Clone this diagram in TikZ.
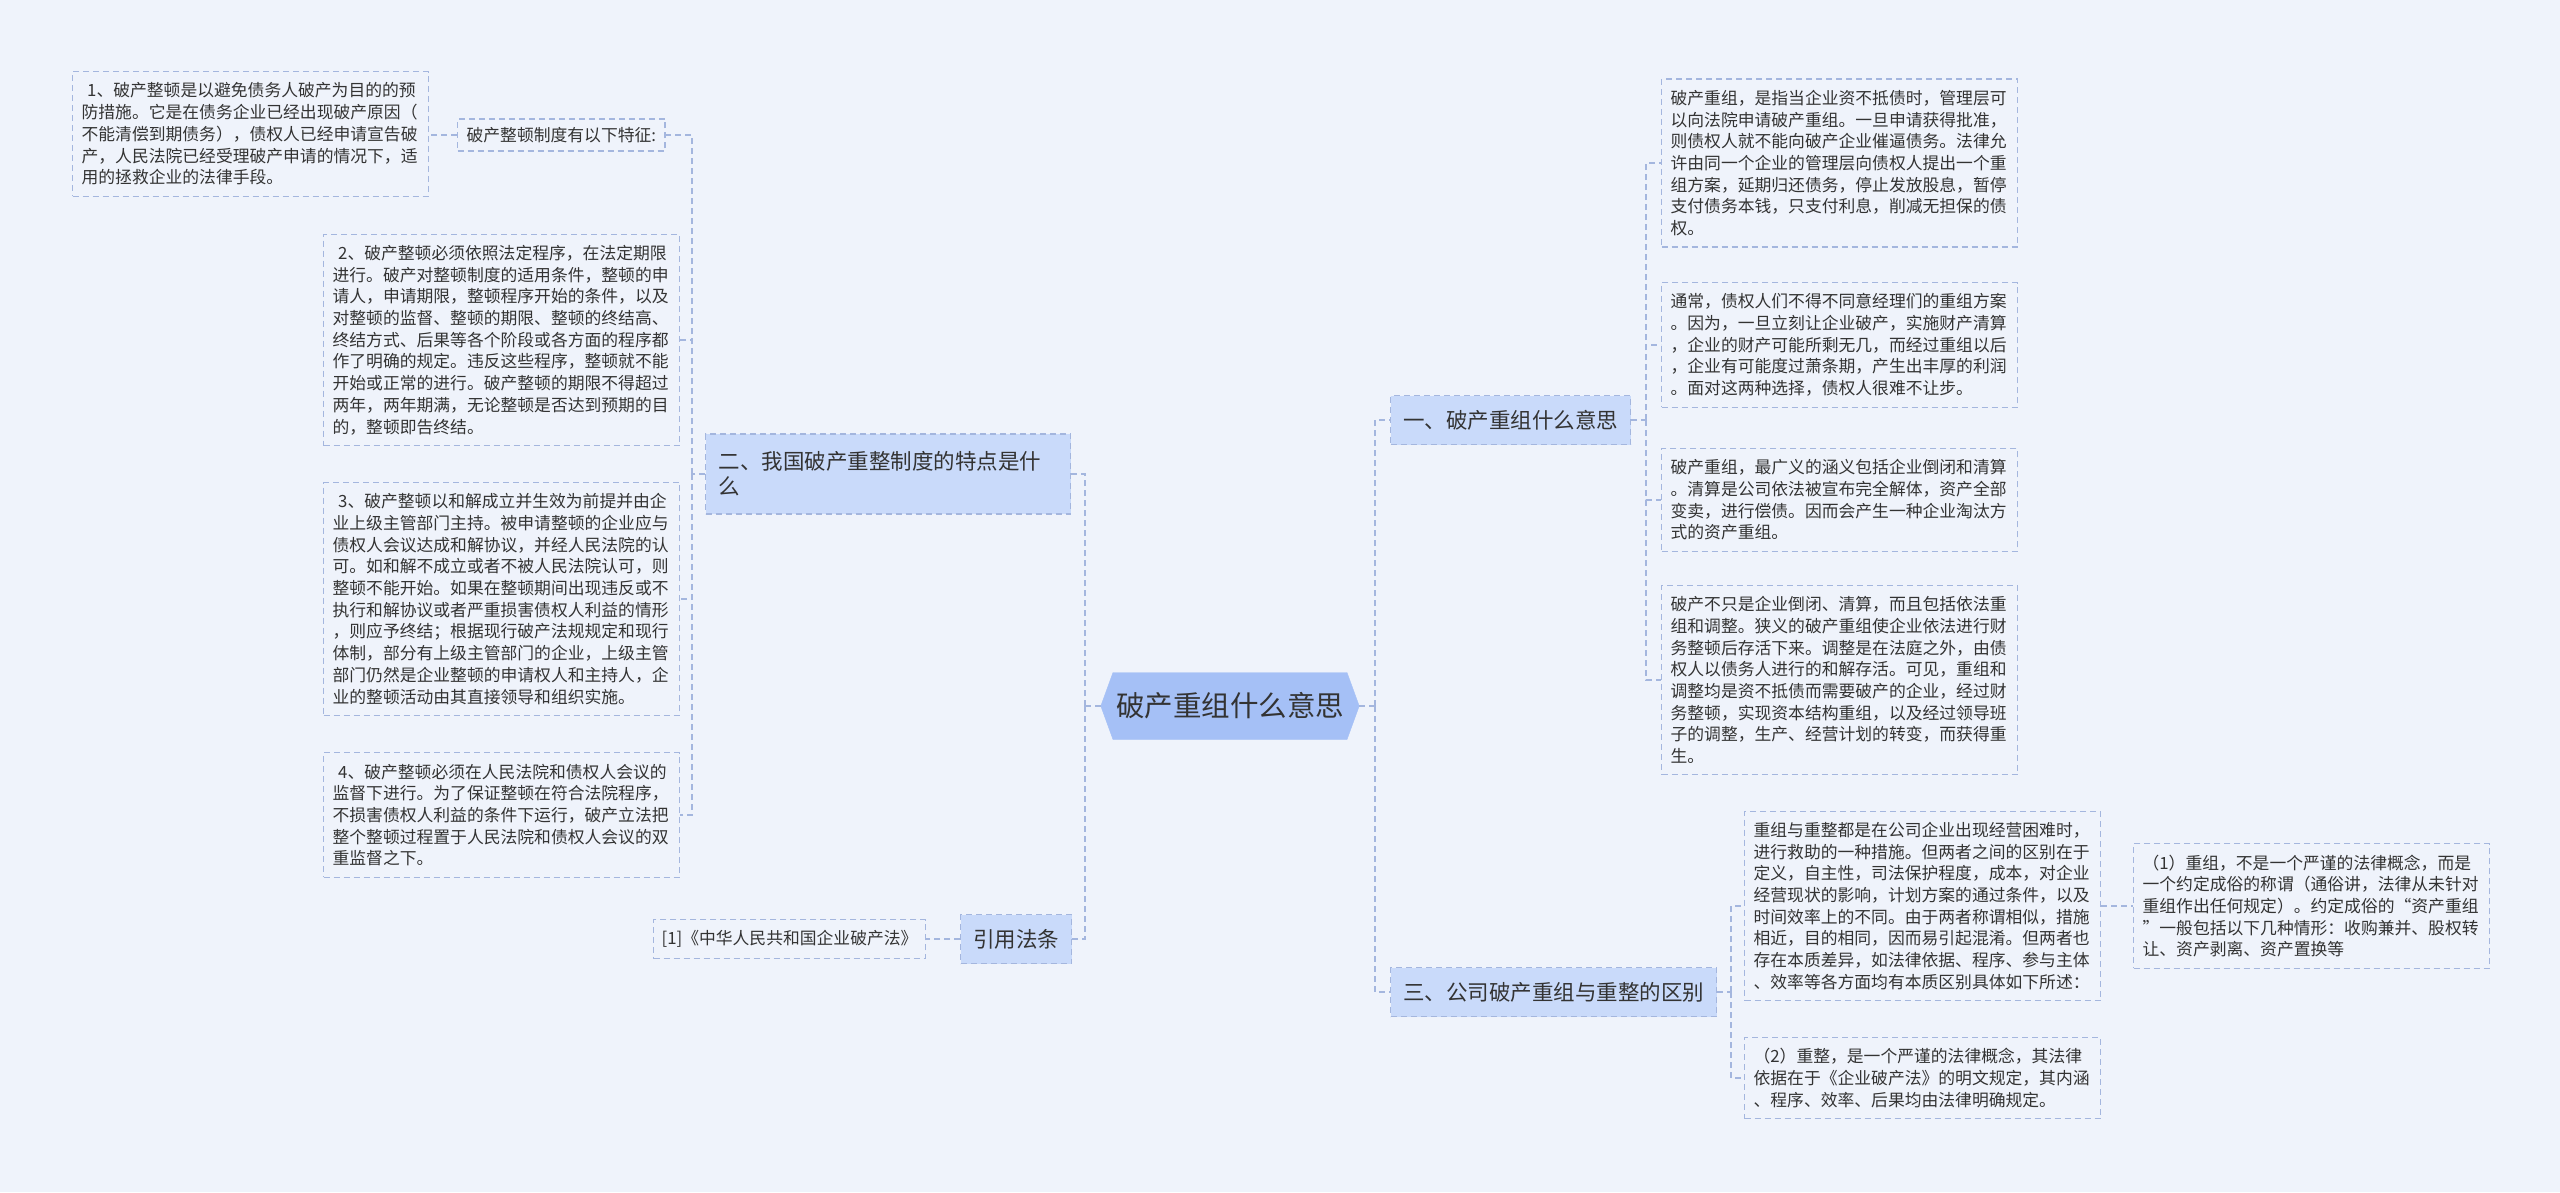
\documentclass[tikz,border=0pt]{standalone}
\usepackage{fontspec}
\setmainfont{Noto Sans CJK SC}
\usetikzlibrary{shapes.symbols}
\definecolor{pagebg}{RGB}{239,243,251}
\definecolor{linkblue}{RGB}{164,182,222}
\definecolor{topicblue}{RGB}{201,218,250}
\definecolor{rootblue}{RGB}{165,192,246}
\definecolor{inkgray}{RGB}{51,51,51}

\begin{document}
\begin{tikzpicture}[x=1pt, y=-1pt,
        root/.style={signal, signal to=west and east, signal pointer angle=140, fill=rootblue, draw=rootblue, minimum height=67pt, minimum width=257pt, inner xsep=3pt, text=inkgray, font=\fontsize{28.5pt}{30pt}\selectfont},
        topic/.style={rectangle, fill=topicblue, draw=linkblue, dash pattern=on 6pt off 4pt, line width=1.2pt, minimum height=49pt, inner xsep=12.5pt, text=inkgray, font=\fontsize{21.5pt}{25pt}\selectfont, anchor=west},
        leaf/.style={rectangle, fill=pagebg, draw=linkblue, dash pattern=on 6pt off 4pt, line width=1.2pt, text width=338pt, inner xsep=9pt, inner ysep=11pt, align=left, text=inkgray, font=\fontsize{16.8pt}{21.7pt}\selectfont, anchor=west},
        note/.style={rectangle, fill=pagebg, draw=linkblue, dash pattern=on 6pt off 4pt, line width=1.2pt, inner xsep=9pt, text=inkgray, font=\fontsize{16.8pt}{21.7pt}\selectfont, anchor=west},
        link/.style={draw=linkblue, line width=1.2pt, dash pattern=on 6pt off 4pt}
    ]
    \fill[pagebg] (0,0) rectangle (2560,1192);

    \node[root] (ctr) at (1230,706) {破产重组什么意思};

    \node[topic, text width=339pt, align=left, minimum height=80pt, inner xsep=13pt] (tp2) at (705,474) {二、我国破产重整制度的特点是什\\么};
    \node[topic] (law) at (960,939) {引用法条};
    \node[topic] (tp1) at (1390,420) {一、破产重组什么意思};
    \node[topic] (tp3) at (1390,992) {三、公司破产重组与重整的区别};

    \node[note, minimum height=32pt] (feat) at (457,135) {破产整顿制度有以下特征:};
    \node[note, minimum height=39pt, inner xsep=8pt] (ref) at (653,939) {[1]《中华人民共和国企业破产法》};

    \node[leaf] (lf1) at (72,134) {\ 1、破产整顿是以避免债务人破产为目的的预\\防措施。它是在债务企业已经出现破产原因（\\不能清偿到期债务），债权人已经申请宣告破\\产，人民法院已经受理破产申请的情况下，适\\用的拯救企业的法律手段。};
    \node[leaf] (lf2) at (323,340) {\ 2、破产整顿必须依照法定程序，在法定期限\\进行。破产对整顿制度的适用条件，整顿的申\\请人，申请期限，整顿程序开始的条件，以及\\对整顿的监督、整顿的期限、整顿的终结高、\\终结方式、后果等各个阶段或各方面的程序都\\作了明确的规定。违反这些程序，整顿就不能\\开始或正常的进行。破产整顿的期限不得超过\\两年，两年期满，无论整顿是否达到预期的目\\的，整顿即告终结。};
    \node[leaf] (lf3) at (323,599) {\ 3、破产整顿以和解成立并生效为前提并由企\\业上级主管部门主持。被申请整顿的企业应与\\债权人会议达成和解协议，并经人民法院的认\\可。如和解不成立或者不被人民法院认可，则\\整顿不能开始。如果在整顿期间出现违反或不\\执行和解协议或者严重损害债权人利益的情形\\，则应予终结；根据现行破产法规规定和现行\\体制，部分有上级主管部门的企业，上级主管\\部门仍然是企业整顿的申请权人和主持人，企\\业的整顿活动由其直接领导和组织实施。};
    \node[leaf] (lf4) at (323,815) {\ 4、破产整顿必须在人民法院和债权人会议的\\监督下进行。为了保证整顿在符合法院程序，\\不损害债权人利益的条件下运行，破产立法把\\整个整顿过程置于人民法院和债权人会议的双\\重监督之下。};

    \node[leaf] (rt1) at (1661,163) {破产重组，是指当企业资不抵债时，管理层可\\以向法院申请破产重组。一旦申请获得批准，\\则债权人就不能向破产企业催逼债务。法律允\\许由同一个企业的管理层向债权人提出一个重\\组方案，延期归还债务，停止发放股息，暂停\\支付债务本钱，只支付利息，削减无担保的债\\权。};
    \node[leaf] (rt2) at (1661,345) {通常，债权人们不得不同意经理们的重组方案\\。因为，一旦立刻让企业破产，实施财产清算\\，企业的财产可能所剩无几，而经过重组以后\\，企业有可能度过萧条期，产生出丰厚的利润\\。面对这两种选择，债权人很难不让步。};
    \node[leaf] (rt3) at (1661,500) {破产重组，最广义的涵义包括企业倒闭和清算\\。清算是公司依法被宣布完全解体，资产全部\\变卖，进行偿债。因而会产生一种企业淘汰方\\式的资产重组。};
    \node[leaf] (rt4) at (1661,680) {破产不只是企业倒闭、清算，而且包括依法重\\组和调整。狭义的破产重组使企业依法进行财\\务整顿后存活下来。调整是在法庭之外，由债\\权人以债务人进行的和解存活。可见，重组和\\调整均是资不抵债而需要破产的企业，经过财\\务整顿，实现资本结构重组，以及经过领导班\\子的调整，生产、经营计划的转变，而获得重\\生。};
    \node[leaf] (rt5) at (1744,906) {重组与重整都是在公司企业出现经营困难时，\\进行救助的一种措施。但两者之间的区别在于\\定义，自主性，司法保护程度，成本，对企业\\经营现状的影响，计划方案的通过条件，以及\\时间效率上的不同。由于两者称谓相似，措施\\相近，目的相同，因而易引起混淆。但两者也\\存在本质差异，如法律依据、程序、参与主体\\、效率等各方面均有本质区别具体如下所述：};
    \node[leaf] (rt6) at (2133,906) {（1）重组，不是一个严谨的法律概念，而是\\一个约定成俗的称谓（通俗讲，法律从未针对\\重组作出任何规定）。约定成俗的“资产重组\\”一般包括以下几种情形：收购兼并、股权转\\让、资产剥离、资产置换等};
    \node[leaf] (rt7) at (1744,1078) {（2）重整，是一个严谨的法律概念，其法律\\依据在于《企业破产法》的明文规定，其内涵\\、程序、效率、后果均由法律明确规定。};

    \coordinate (sl) at (1085,706);
    \coordinate (sr) at (1375,706);
    \coordinate (s2) at (692,474);
    \coordinate (s1) at (1646,420);
    \coordinate (s3) at (1731,992);

    \draw[link] (ctr.west) -- (sl);
    \draw[link] (sl) |- (tp2.east);
    \draw[link] (sl) |- (law.east);
    \draw[link] (ctr.east) -- (sr);
    \draw[link] (sr) |- (tp1.west);
    \draw[link] (sr) |- (tp3.west);

    \draw[link] (tp2.west) -- (s2);
    \draw[link] (s2) |- (feat.east);
    \draw[link] (s2) |- (lf2.east);
    \draw[link] (s2) |- (lf3.east);
    \draw[link] (s2) |- (lf4.east);
    \draw[link] (feat.west) -- (lf1.east |- feat.west);
    \draw[link] (law.west) -- (ref.east);

    \draw[link] (tp1.east) -- (s1);
    \draw[link] (s1) |- (rt1.west);
    \draw[link] (s1) |- (rt2.west);
    \draw[link] (s1) |- (rt3.west);
    \draw[link] (s1) |- (rt4.west);

    \draw[link] (tp3.east) -- (s3);
    \draw[link] (s3) |- (rt5.west);
    \draw[link] (s3) |- (rt7.west);
    \draw[link] (rt5.east) -- (rt6.west);
\end{tikzpicture}
\end{document}
